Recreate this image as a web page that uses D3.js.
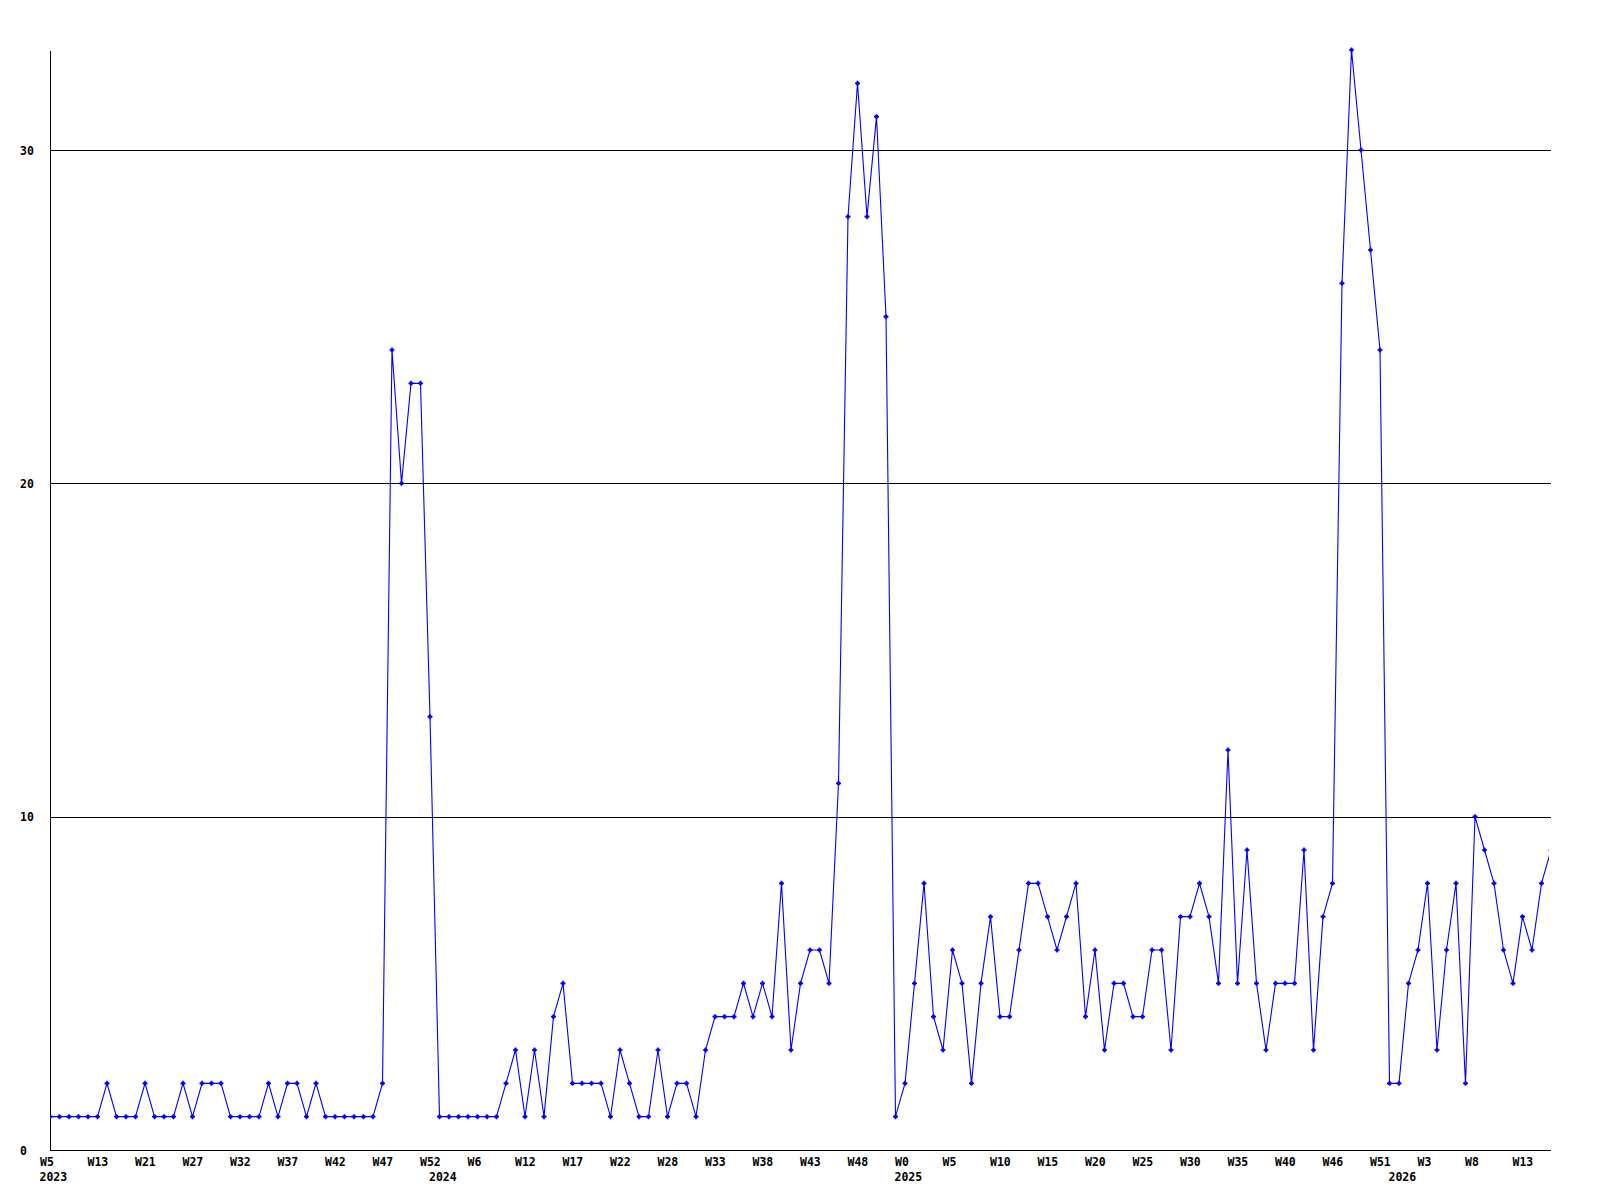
<!DOCTYPE html>
<html>
<head>
<meta charset="utf-8">
<script src="https://cdn.jsdelivr.net/npm/d3@7"></script>
<style>
  html, body { margin: 0; padding: 0; background: #ffffff; }
  svg { display: block; }
  text { font-family: "DejaVu Sans Mono", "Liberation Mono", monospace; font-weight: bold; font-size: 11.5px; fill: #000; }
</style>
</head>
<body>
<svg id="chart" width="1600" height="1200"></svg>
<script>
// ---- data ----
const values = [
  1,1,1,1,1,1,2,1,1,1, 2,1,1,1,2,1,2,2,2,1,
  1,1,1,2,1,2,2,1,2,1, 1,1,1,1,1,2,24,20,23,23,
  13,1,1,1,1,1,1,1,2,3, 1,3,1,4,5,2,2,2,2,1,
  3,2,1,1,3,1,2,2,1,3, 4,4,4,5,4,5,4,8,3,5,
  6,6,5,11,28,32,28,31,25,1, 2,5,8,4,3,6,5,2,5,7,
  4,4,6,8,8,7,6,7,8,4, 6,3,5,5,4,4,6,6,3,7,
  7,8,7,5,12,5,9,5,3,5, 5,5,9,3,7,8,26,33,30,27,
  24,2,2,5,6,8,3,6,8,2, 10,9,8,6,5,7,6,8,9
];
const weekLabels = ["W5","W13","W21","W27","W32","W37","W42","W47","W52","W6",
  "W12","W17","W22","W28","W33","W38","W43","W48","W0","W5",
  "W10","W15","W20","W25","W30","W35","W40","W46","W51","W3","W8","W13"];
const labelEvery = 5;
const yearLabels = ["2023","2024","2025","2026"];
const yearStartIndex = [0,41,90,142];
const yTicks = [0,10,20,30];
const yMax = 33;

(function () {
// ---- layout ----
const mLeft = 50, mRight = 1551, mTop = 50, mBottom = 1150;
const svg = d3.select("#chart");

const x = d3.scaleLinear().domain([0, values.length - 1]).range([mLeft, mRight]);
const y = d3.scaleLinear().domain([0, yMax]).range([mBottom, mTop]);

// clip
svg.append("defs").append("clipPath").attr("id","plotclip")
  .append("rect").attr("x", mLeft).attr("y", 0).attr("width", mRight - mLeft - 2).attr("height", mBottom + 5);

// Y axis with gridlines
const yAxis = d3.axisLeft(y).tickValues(yTicks).tickSizeInner(-(mRight - mLeft)).tickSizeOuter(0).tickPadding(0);
const gy = svg.append("g").attr("transform", `translate(${mLeft},0)`).call(yAxis);
gy.attr("font-size", null).attr("font-family", null);
gy.select(".domain").attr("stroke", "#000").attr("stroke-width", 1).attr("shape-rendering","crispEdges");
gy.selectAll(".tick line").attr("stroke", "#000").attr("stroke-width", 1).attr("shape-rendering","crispEdges");
gy.selectAll(".tick text").attr("x", 20 - mLeft).attr("dy", "0.36em")
  .attr("text-anchor", "start");

// X axis
const tickIdx = weekLabels.map((d, i) => i * labelEvery);
const xAxis = d3.axisBottom(x).tickValues(tickIdx).tickSize(0).tickSizeOuter(0)
  .tickFormat((d, i) => weekLabels[i]);
const gx = svg.append("g").attr("transform", `translate(0,${mBottom})`).call(xAxis);
gx.attr("font-size", null).attr("font-family", null);
gx.select(".domain").attr("d", `M${mLeft},0.5H${mRight}`).attr("stroke", "#000").attr("stroke-width", 1).attr("shape-rendering","crispEdges");
gx.selectAll(".tick text").attr("y", 16).attr("dy", 0).attr("x", -10.5)
  .attr("text-anchor", "start");

// year labels
svg.append("g").selectAll("text").data(yearLabels).join("text")
  .attr("x", (d, i) => x(yearStartIndex[i]) - 10.5)
  .attr("y", mBottom + 31)
  .text(d => d);

// line
const plot = svg.append("g").attr("clip-path", "url(#plotclip)");
const line = d3.line().x((d, i) => x(i)).y(d => y(d));
plot.append("path").datum(values).attr("d", line)
  .attr("fill", "none").attr("stroke", "#0000ff").attr("stroke-width", 1.1);

// markers
const mk = plot.append("g").selectAll("g").data(values).join("g")
  .attr("transform", (d, i) => `translate(${x(i)},${y(d)})`);
mk.append("path").attr("d", "M-2.5,0H2.5M0,-2.5V2.5").attr("stroke", "#0000ff").attr("stroke-width", 1.6);
mk.append("rect").attr("x", -1.5).attr("y", -1.5).attr("width", 3).attr("height", 3).attr("fill", "#0000ff");
})();
</script>
</body>
</html>
